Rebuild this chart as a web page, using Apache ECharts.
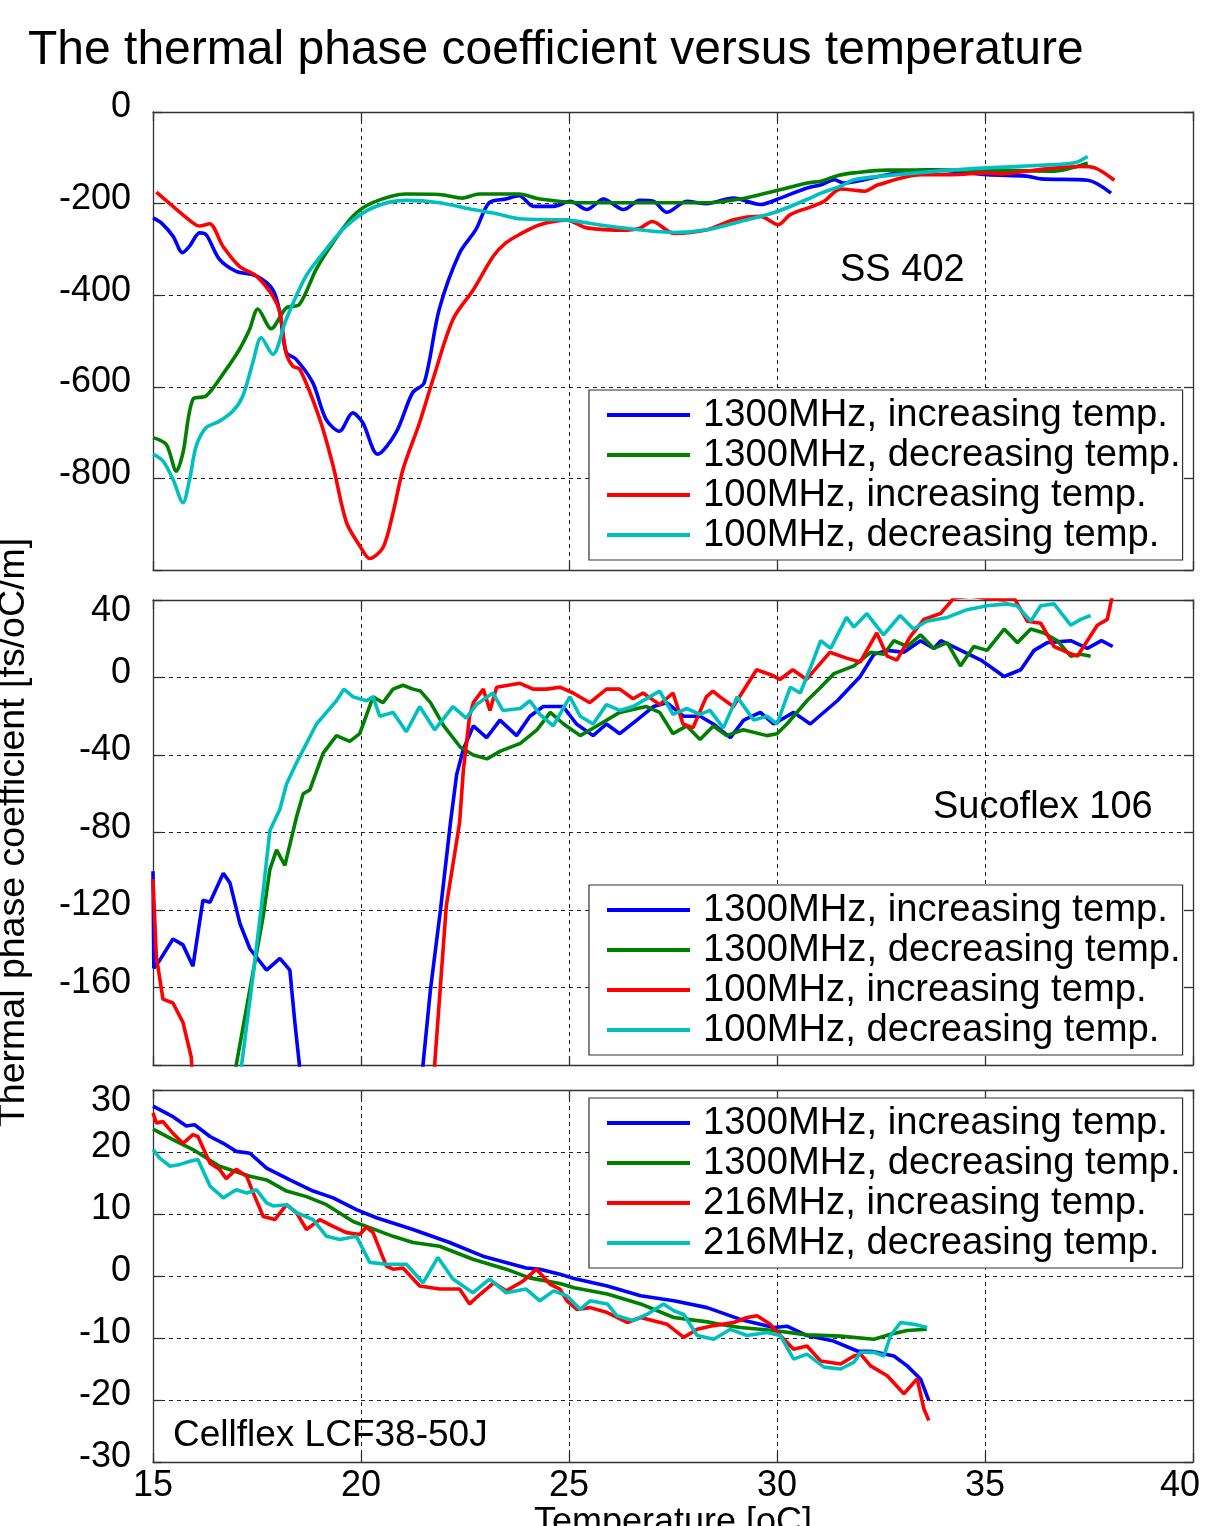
<!DOCTYPE html>
<html>
<head>
<meta charset="utf-8">
<script src="https://cdn.jsdelivr.net/npm/echarts@6/dist/echarts.min.js"></script>
<style>
html,body{margin:0;padding:0;background:#fff;}
#chart{width:1205px;height:1526px;}
</style>
</head>
<body>
<div id="chart"></div>
<script>
// ---------- DATA ----------
var titleText = 'The thermal phase coefficient versus temperature';
var yAxisName = 'Thermal phase coefficient [fs/oC/m]';
var xAxisName = 'Temperature [oC]';
var panelLabels = ['SS 402', 'Sucoflex 106', 'Cellflex LCF38-50J'];
var names12 = ['1300MHz, increasing temp.', '1300MHz, decreasing temp.', '100MHz, increasing temp.', '100MHz, decreasing temp.'];
var names3 = ['1300MHz, increasing temp.', '1300MHz, decreasing temp.', '216MHz, increasing temp.', '216MHz, decreasing temp.'];

// Panel 1: SS 402
var p1Blue = [[15.0,-231],[15.2,-242],[15.48,-271],[15.71,-307],[15.88,-293],[16.12,-264],[16.28,-268],[16.6,-322],[17.0,-348],[17.48,-358],[17.88,-388],[18.05,-438],[18.2,-525],[18.44,-540],[18.84,-591],[19.16,-671],[19.48,-697],[19.8,-657],[20.04,-678],[20.4,-747],[20.84,-700],[21.24,-613],[21.52,-591],[21.88,-431],[22.37,-308],[22.76,-257],[23.08,-198],[23.48,-190],[23.8,-183],[24.15,-206],[24.63,-206],[25.03,-195],[25.43,-213],[25.83,-190],[26.31,-213],[26.7,-193],[27.03,-195],[27.35,-219],[27.83,-195],[28.31,-200],[28.95,-188],[29.6,-202],[30.08,-188],[30.72,-166],[31.06,-159],[31.38,-148],[31.6,-155],[32.65,-137],[33.7,-126],[35.06,-137],[36.0,-140],[36.35,-146],[37.47,-149],[38.03,-177]];
var p1Green = [[15.0,-711],[15.32,-726],[15.56,-784],[15.72,-744],[15.96,-627],[16.28,-620],[16.76,-562],[17.08,-518],[17.32,-475],[17.52,-430],[17.84,-473],[18.2,-428],[18.52,-420],[18.92,-344],[19.32,-286],[19.8,-228],[20.28,-198],[21.08,-179],[21.88,-180],[22.44,-188],[22.84,-179],[23.8,-179],[24.3,-190],[25.28,-198],[26.72,-198],[28.32,-198],[29.12,-190],[29.92,-173],[30.73,-155],[31.06,-151],[31.45,-139],[31.85,-133],[32.65,-127],[33.85,-127],[35.06,-127],[36.66,-129],[37.47,-111]];
var p1Red = [[15.08,-175],[15.48,-206],[15.96,-242],[16.12,-249],[16.36,-244],[16.68,-293],[17.08,-337],[17.48,-358],[17.88,-402],[18.05,-438],[18.2,-526],[18.36,-555],[18.53,-562],[19.01,-671],[19.33,-773],[19.65,-896],[19.97,-947],[20.21,-975],[20.53,-951],[20.77,-875],[21.01,-780],[21.41,-678],[21.73,-584],[22.21,-453],[22.7,-388],[23.18,-315],[23.48,-286],[23.8,-268],[24.3,-246],[24.95,-236],[25.43,-253],[26.4,-258],[26.72,-253],[27.0,-239],[27.52,-265],[28.32,-257],[28.96,-235],[29.6,-228],[30.03,-246],[30.32,-224],[30.85,-206],[31.13,-195],[31.53,-168],[32.11,-173],[32.43,-159],[33.46,-137],[34.2,-137],[35.06,-133],[35.39,-135],[36.27,-126],[37.3,-119],[37.64,-122],[38.11,-149]];
var p1Cyan = [[15.0,-747],[15.24,-762],[15.48,-802],[15.72,-853],[15.88,-802],[16.04,-729],[16.28,-689],[16.6,-675],[16.92,-653],[17.16,-620],[17.4,-547],[17.6,-493],[17.88,-529],[18.2,-453],[18.68,-358],[19.16,-300],[19.64,-249],[20.28,-209],[21.08,-193],[21.88,-198],[22.68,-213],[23.26,-222],[23.8,-233],[24.95,-236],[25.92,-249],[27.52,-263],[28.32,-257],[29.12,-239],[29.92,-220],[30.72,-191],[31.06,-177],[31.53,-162],[31.85,-148],[32.65,-139],[33.85,-129],[35.06,-122],[36.66,-115],[37.15,-111],[37.47,-97]];

// Panel 2: Sucoflex 106 (values beyond the axis range are clipped)
var p2Blue = [[15.0,-100],[15.02,-150],[15.16,-146],[15.48,-135],[15.72,-138],[15.96,-149],[16.2,-115],[16.37,-116],[16.69,-101],[16.85,-106],[17.09,-127],[17.33,-140],[17.73,-151],[18.05,-145],[18.29,-151],[18.41,-178],[18.52,-200],[18.56,-215],[21.45,-215],[21.49,-200],[21.67,-161],[21.91,-120],[22.15,-75],[22.3,-50],[22.46,-37],[22.7,-25],[23.02,-31],[23.34,-22],[23.74,-30],[24.06,-20],[24.38,-15],[24.86,-15],[25.18,-24],[25.58,-30],[25.9,-24],[26.22,-29],[26.63,-22],[27.03,-15],[27.35,-13],[27.75,-20],[28.15,-20],[28.47,-24],[28.88,-31],[29.2,-22],[29.6,-18],[29.92,-24],[30.4,-18],[30.8,-24],[31.45,-12],[32.0,0.5],[32.33,12],[32.65,14],[33.05,13],[33.45,19],[33.77,15],[33.94,19],[34.42,14],[34.9,9],[35.46,0.5],[35.86,4],[36.18,14],[36.5,18],[37.06,19],[37.46,15],[37.8,19],[38.07,16]];
var p2Green = [[16.96,-215],[17.0,-200],[17.33,-161],[17.65,-123],[17.81,-99],[17.97,-89],[18.17,-97],[18.45,-72],[18.61,-60],[18.77,-58],[19.09,-39],[19.41,-30],[19.73,-33],[19.97,-29],[20.29,-10],[20.53,-13],[20.77,-6],[21.01,-4],[21.25,-6],[21.43,-7],[21.67,-13],[21.99,-25],[22.39,-36],[22.7,-40],[23.03,-42],[23.35,-38],[23.83,-34],[24.23,-27],[24.55,-18],[24.87,-24],[25.27,-30],[25.67,-25],[26.22,-18],[26.86,-15],[27.18,-18],[27.5,-29],[27.83,-25],[28.15,-32],[28.47,-25],[28.79,-30],[29.19,-27],[29.76,-30],[30.0,-29],[30.24,-24],[30.72,-12],[31.05,-5],[31.37,2],[31.85,6],[32.25,13],[32.57,12],[32.81,19],[33.13,16],[33.45,22],[33.77,15],[34.09,18],[34.41,6],[34.73,16],[35.05,14],[35.46,25],[35.78,18],[36.1,25],[36.42,23],[36.74,19],[37.06,11],[37.3,12],[37.54,11]];
var p2Red = [[15.0,-104],[15.08,-144],[15.24,-166],[15.48,-168],[15.72,-178],[15.92,-196],[15.97,-215],[21.73,-215],[21.77,-200],[22.05,-118],[22.37,-75],[22.46,-48],[22.61,-20],[22.7,-13],[22.94,-6],[23.1,-17],[23.26,-5],[23.82,-3],[24.14,-6],[24.46,-6],[24.78,-5],[25.1,-8],[25.5,-13],[25.9,-6],[26.22,-6],[26.54,-11],[26.78,-8],[27.18,-14],[27.5,-8],[27.74,-24],[27.98,-26],[28.3,-10],[28.46,-7],[28.63,-10],[28.95,-15],[29.51,4],[29.9,1],[30.07,-1],[30.38,4],[30.71,-1],[31.27,13],[31.67,10],[32.0,8],[32.4,23],[32.65,11],[32.88,9],[33.2,21],[33.53,30],[33.93,33],[34.25,41],[34.65,42],[34.97,41],[35.46,40],[35.7,41],[36.02,29],[36.34,28],[36.66,16],[36.98,13],[37.22,11],[37.46,19],[37.7,27],[37.94,30],[38.06,42]];
var p2Cyan = [[17.09,-215],[17.13,-200],[17.41,-153],[17.65,-110],[17.81,-79],[18.05,-68],[18.21,-55],[18.45,-44],[18.69,-34],[18.93,-24],[19.17,-18],[19.41,-12],[19.59,-6],[19.81,-10],[20.13,-12],[20.29,-10],[20.45,-20],[20.77,-18],[21.09,-28],[21.41,-15],[21.77,-27],[22.21,-15],[22.53,-21],[22.77,-14],[23.17,-8],[23.41,-17],[23.83,-16],[24.06,-12],[24.3,-19],[24.62,-25],[25.02,-10],[25.27,-20],[25.58,-24],[25.9,-14],[26.22,-17],[26.54,-15],[26.94,-10],[27.18,-7],[27.5,-19],[27.83,-16],[28.15,-19],[28.39,-17],[28.71,-26],[29.04,-10],[29.44,-22],[29.76,-20],[30.0,-24],[30.32,-5],[30.56,-8],[30.84,7],[31.05,19],[31.29,15],[31.67,31],[31.85,26],[32.16,33],[32.56,22],[32.96,32],[33.28,25],[33.6,29],[34.09,31],[34.57,35],[35.05,37],[35.53,38],[35.77,37],[36.1,29],[36.34,37],[36.66,38],[37.06,27],[37.3,30],[37.54,32]];

// Panel 3: Cellflex LCF38-50J
var p3Blue = [[15.0,27.4],[15.48,25.7],[15.8,24.2],[16.0,24.4],[16.37,22.5],[16.69,21.4],[17.0,20.1],[17.33,19.8],[17.73,17.4],[18.29,15.5],[18.85,13.7],[19.33,12.6],[19.89,10.7],[20.37,9.4],[21.25,7.5],[22.13,5.4],[22.93,3.2],[23.97,1.3],[24.3,1.1],[24.78,0.3],[25.12,-0.4],[25.92,-1.6],[26.72,-3.2],[27.52,-4.0],[28.32,-5.1],[29.12,-7.0],[29.92,-8.3],[30.24,-8.1],[30.72,-9.6],[31.36,-10.5],[31.93,-12.1],[32.33,-12.2],[32.81,-12.9],[33.13,-14.5],[33.45,-16.6],[33.65,-20.1]];
var p3Green = [[15.0,23.7],[15.48,22.0],[15.96,20.4],[16.6,17.7],[17.33,16.1],[17.73,15.5],[18.21,13.7],[18.69,12.8],[19.17,11.5],[19.81,8.8],[20.13,8.0],[20.77,6.4],[21.25,5.4],[21.89,4.8],[22.69,2.7],[23.49,1.1],[24.05,-0.3],[24.78,-1.2],[25.12,-1.9],[25.92,-2.9],[26.72,-4.5],[27.52,-6.7],[28.32,-7.4],[28.72,-7.9],[29.12,-8.3],[29.92,-8.8],[30.72,-9.5],[31.52,-9.7],[32.33,-10.2],[32.73,-9.4],[33.13,-8.8],[33.6,-8.6]];
var p3Red = [[15.0,26.3],[15.08,24.7],[15.24,24.9],[15.48,23.0],[15.72,21.4],[15.96,22.8],[16.08,22.5],[16.37,18.2],[16.6,17.2],[16.76,15.7],[17.0,17.2],[17.25,16.1],[17.41,13.4],[17.65,9.6],[17.93,9.1],[18.21,11.5],[18.45,10.2],[18.69,7.5],[19.01,9.1],[19.33,8.0],[19.65,7.0],[19.97,6.7],[20.13,7.9],[20.29,7.0],[20.61,1.6],[20.77,1.1],[21.01,1.3],[21.41,-1.6],[21.89,-2.1],[22.37,-2.1],[22.61,-4.5],[22.77,-3.5],[23.19,-1.1],[23.49,-2.4],[23.9,-0.8],[24.22,1.1],[24.54,-1.3],[24.78,-2.1],[24.95,-4.0],[25.19,-5.4],[25.51,-5.1],[25.92,-5.9],[26.4,-7.5],[26.72,-6.7],[27.36,-7.8],[27.76,-9.9],[28.08,-8.6],[28.48,-8.0],[28.96,-7.5],[29.28,-6.7],[29.52,-6.4],[29.84,-7.8],[30.08,-9.6],[30.4,-11.8],[30.72,-11.3],[31.05,-13.7],[31.53,-14.2],[31.85,-12.9],[32.01,-12.6],[32.25,-14.5],[32.65,-16.1],[33.05,-19.0],[33.37,-16.6],[33.53,-21.4],[33.65,-23.3]];
var p3Cyan = [[15.0,20.4],[15.16,19.0],[15.41,17.7],[15.65,18.0],[15.89,18.5],[16.08,18.8],[16.37,14.5],[16.69,12.6],[17.0,13.9],[17.25,13.4],[17.49,13.9],[17.73,11.8],[17.89,11.3],[18.21,11.5],[18.45,10.2],[18.85,9.1],[19.17,6.4],[19.49,5.9],[19.89,6.4],[20.21,2.2],[20.61,1.9],[21.09,1.9],[21.49,-1.1],[21.85,3.0],[22.21,-0.5],[22.69,-2.7],[23.09,-0.5],[23.49,-2.7],[23.97,-2.1],[24.3,-4.0],[24.63,-2.4],[24.95,-3.2],[25.27,-5.4],[25.51,-4.0],[25.92,-4.5],[26.15,-6.4],[26.55,-7.2],[26.87,-6.2],[27.27,-4.5],[27.52,-5.6],[27.76,-6.2],[28.08,-9.6],[28.48,-10.2],[28.88,-8.6],[29.28,-9.6],[29.76,-9.1],[30.08,-9.6],[30.4,-13.4],[30.72,-12.6],[31.13,-14.7],[31.53,-15.0],[31.85,-13.9],[32.01,-12.3],[32.33,-12.3],[32.57,-12.9],[32.73,-9.6],[32.97,-7.5],[33.29,-7.8],[33.61,-8.3]];

// Axes ranges
var xRange = {min: 15, max: 40, interval: 5};
var yRanges = [
  {min: -1000, max: 0, interval: 200, hide: -1000, topDown: false},
  {min: -200, max: 40, interval: 40, hide: -200, topDown: true},
  {min: -30, max: 30, interval: 10, hide: null, topDown: true}
];

// ---------- STYLE / LAYOUT ----------
var FONT = '"Liberation Sans", Arial, Helvetica, sans-serif';
var COLORS = ['#0000ff', '#007f00', '#ff0000', '#00bfbf'];
var grids = [
  {left: 153, top: 112, width: 1040, height: 458, outerBoundsMode: 'none', containLabel: false},
  {left: 153, top: 600, width: 1040, height: 465, outerBoundsMode: 'none', containLabel: false},
  {left: 153, top: 1090, width: 1040, height: 372, outerBoundsMode: 'none', containLabel: false}
];
var legendTops = [390, 885, 1098];
var axisLineStyle = {color: '#333', width: 1.3};
var gridLineStyle = {color: '#222', width: 1, type: [4, 4]};

var xAxes = [], yAxes = [];
grids.forEach(function (g, i) {
  var isBottom = (i === 2);
  xAxes.push({
    type: 'value', gridIndex: i, position: 'bottom',
    min: xRange.min, max: xRange.max, interval: xRange.interval,
    axisLine: {show: true, onZero: false, lineStyle: axisLineStyle},
    axisTick: {show: true, inside: true, length: 9, lineStyle: axisLineStyle},
    splitLine: {show: true, lineStyle: gridLineStyle},
    axisLabel: {show: isBottom, fontSize: 36, color: '#000', margin: 6, fontFamily: FONT,
      showMinLabel: true, showMaxLabel: true,
      formatter: function (v) { return v === xRange.max ? '{m|' + v + '}' : String(v); },
      rich: {m: {fontSize: 36, color: '#000', fontFamily: FONT, padding: [0, 26, 0, 0]}}},
    name: isBottom ? xAxisName : '', nameLocation: 'middle', nameGap: 38,
    nameTextStyle: {fontSize: 36, color: '#000', fontFamily: FONT}
  });
  xAxes.push({
    type: 'value', gridIndex: i, position: 'top',
    min: xRange.min, max: xRange.max, interval: xRange.interval,
    axisLine: {show: true, onZero: false, lineStyle: axisLineStyle},
    axisTick: {show: true, inside: true, length: 9, lineStyle: axisLineStyle},
    splitLine: {show: false}, axisLabel: {show: false}
  });
  var yr = yRanges[i];
  yAxes.push({
    type: 'value', gridIndex: i, position: 'left',
    min: yr.min, max: yr.max, interval: yr.interval,
    axisLine: {show: true, onZero: false, lineStyle: axisLineStyle},
    axisTick: {show: true, inside: true, length: 9, lineStyle: axisLineStyle},
    splitLine: {show: true, lineStyle: gridLineStyle},
    axisLabel: {fontSize: 36, color: '#000', margin: 22, fontFamily: FONT,
      verticalAlign: 'middle', showMinLabel: true, showMaxLabel: true,
      formatter: (function (r) {
        return function (v) {
          if (v === r.hide) return '';
          if (r.topDown && v === r.max) return '{t|' + v + '}';
          return '{n|' + v + '}';
        };
      })(yr),
      rich: {
        n: {fontSize: 36, color: '#000', fontFamily: FONT, lineHeight: 36, padding: [0, 0, 9, 0]},
        t: {fontSize: 36, color: '#000', fontFamily: FONT, lineHeight: 36, padding: [22, 0, 0, 0]}
      }},
    name: i === 1 ? yAxisName : '', nameLocation: 'middle', nameRotate: 90, nameGap: 120,
    nameTextStyle: {fontSize: 37.5, color: '#000', fontFamily: FONT}
  });
  yAxes.push({
    type: 'value', gridIndex: i, position: 'right',
    min: yr.min, max: yr.max, interval: yr.interval,
    axisLine: {show: true, onZero: false, lineStyle: axisLineStyle},
    axisTick: {show: true, inside: true, length: 9, lineStyle: axisLineStyle},
    splitLine: {show: false}, axisLabel: {show: false}
  });
});

var panelData = [
  [p1Blue, p1Green, p1Red, p1Cyan],
  [p2Blue, p2Green, p2Red, p2Cyan],
  [p3Blue, p3Green, p3Red, p3Cyan]
];
var panelNames = [names12, names12, names3];

var series = [];
panelData.forEach(function (arr, i) {
  arr.forEach(function (d, k) {
    series.push({
      type: 'line', name: panelNames[i][k], data: d,
      xAxisIndex: i * 2, yAxisIndex: i * 2,
      showSymbol: false, symbol: 'none', clip: true,
      smooth: i === 0 ? 0.3 : false,
      lineStyle: {color: COLORS[k], width: 3.6},
      itemStyle: {color: COLORS[k]},
      z: 2 + k, animation: false
    });
  });
});

var legends = legendTops.map(function (t, i) {
  return {
    orient: 'vertical', left: 589, top: t,
    data: panelNames[i], icon: 'rect', itemWidth: 83, itemHeight: 4,
    itemGap: 0, padding: [5, 2, 5, 18],
    backgroundColor: '#fff', borderColor: '#333', borderWidth: 1.2,
    textStyle: {fontSize: 38.2, lineHeight: 40, color: '#000', fontFamily: FONT, padding: [0, 0, 0, 8]},
    selectedMode: false
  };
});

var option = {
  animation: false,
  backgroundColor: '#fff',
  textStyle: {fontFamily: FONT},
  title: {text: titleText, left: 23, top: 22, textStyle: {fontSize: 48, fontWeight: 'normal', color: '#000', fontFamily: FONT}},
  grid: grids,
  xAxis: xAxes,
  yAxis: yAxes,
  legend: legends,
  series: series,
  graphic: [
    {type: 'text', left: 840, top: 252, z: 100, style: {text: panelLabels[0], fontSize: 38, fill: '#000', fontFamily: FONT}},
    {type: 'text', left: 933, top: 789, z: 100, style: {text: panelLabels[1], fontSize: 38, fill: '#000', fontFamily: FONT}},
    {type: 'text', left: 173, top: 1417, z: 100, style: {text: panelLabels[2], fontSize: 37, fill: '#000', fontFamily: FONT}}
  ]
};
var chart = echarts.init(document.getElementById('chart'), null, {renderer: 'canvas'});
chart.setOption(option);
</script>
</body>
</html>
